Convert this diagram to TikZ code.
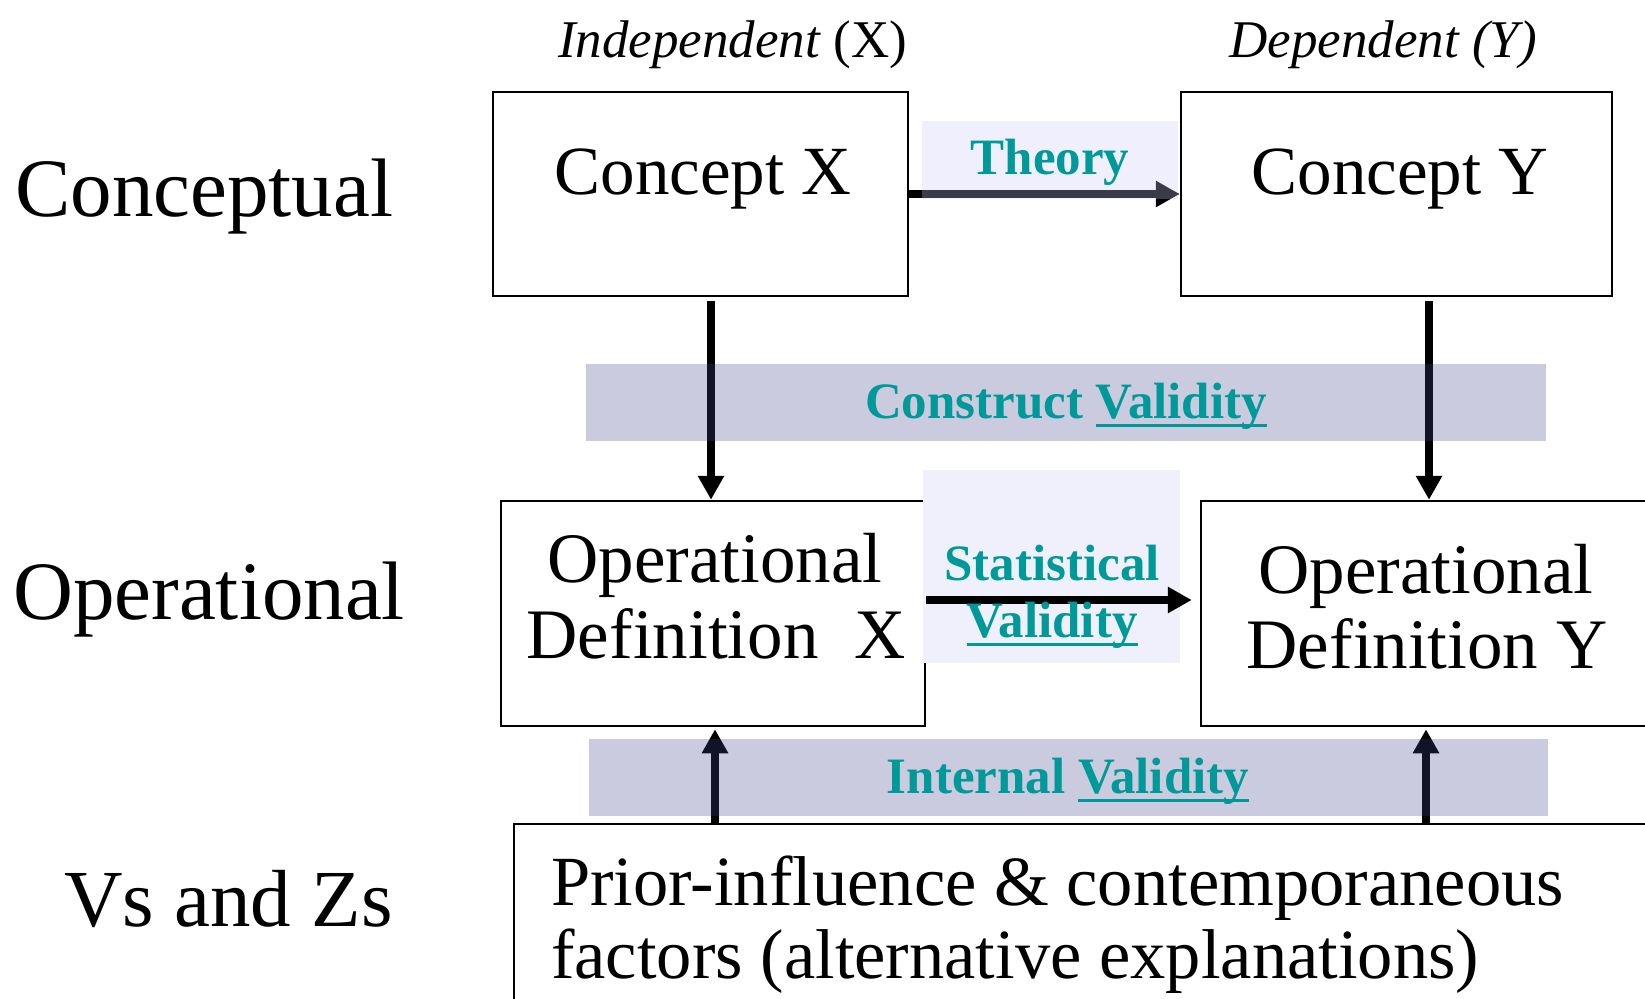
\documentclass[tikz,border=0pt]{standalone}
\usepackage{fontspec}
\setmainfont{Liberation Serif}
\usetikzlibrary{arrows.meta}
\definecolor{tealtxt}{RGB}{0,153,153}
\definecolor{lav}{RGB}{71,71,143}
\definecolor{lavlight}{RGB}{203,203,252}
\definecolor{statfill}{RGB}{240,240,252}
\newcommand\vul[1]{\setbox0\hbox{#1}\rlap{\rule[-8.5pt]{\wd0}{3pt}}\box0}
\begin{document}
\begin{tikzpicture}[x=1pt,y=-1pt,
  box/.style={draw=black,line width=2.5pt,inner sep=0pt,fill=none},
  conn/.style={line width=7.5pt,draw=black,-{Triangle[length=24pt,width=25pt]}},
  lbl/.style={inner sep=0pt,anchor=base west,font=\fontsize{83}{88}\selectfont},
  boxtxt/.style={inner sep=0pt,anchor=base,font=\fontsize{71}{76}\selectfont},
  boxtxtl/.style={inner sep=0pt,anchor=base west,font=\fontsize{70.5}{76}\selectfont},
  head/.style={inner sep=0pt,anchor=base west,font=\fontsize{53}{60}\selectfont},
  vtxt/.style={inner sep=0pt,anchor=base,text=tealtxt,font=\fontsize{51}{57}\selectfont\bfseries},
  hl/.style={fill=lav,fill opacity=0.28,draw=none},
  hlt/.style={fill=lavlight,fill opacity=0.29,draw=none},
]
\clip (0,0) rectangle (1645,998);
\fill[white] (0,0) rectangle (1645,998);

% boxes
\node[box,minimum width=415pt,minimum height=204pt] (cx) at (700.5,194) {};
\node[box,minimum width=431pt,minimum height=204pt] (cy) at (1396.5,194) {};
\node[box,minimum width=424pt,minimum height=225pt] (ox) at (713,613.5) {};
\node[box,minimum width=499pt,minimum height=225pt] (oy) at (1450.5,613.5) {};
\node[box,minimum width=1186pt,minimum height=276pt] (vz) at (1107,962) {};

% statistical highlight (behind arrow)
\fill[statfill] (923,470) rectangle (1180,663);

% connectors
\coordinate (lx) at (711,0);
\coordinate (rx) at (1429,0);
\coordinate (lxb) at (715,0);
\coordinate (rxb) at (1426,0);
\coordinate (sy) at (0,600);
\draw[conn] (cx.east) -- (cy.west);
\draw[conn,shorten <=4pt] (cx.south -| lx) -- (ox.north -| lx);
\draw[conn,shorten <=4pt] (cy.south -| rx) -- (oy.north -| rx);
\draw[conn,shorten >=8pt] (ox.east |- sy) -- (oy.west |- sy);
\draw[conn,shorten >=2pt] (vz.north -| lxb) -- (ox.south -| lxb);
\draw[conn,shorten >=2pt] (vz.north -| rxb) -- (oy.south -| rxb);

% highlights over arrows
\fill[hlt] (922,121) rectangle (1178,199);
\fill[hl] (586,364) rectangle (1546,441);
\fill[hl] (589,739) rectangle (1548,816);

% texts
\node[head] (hx) at (558,57) {\itshape Independent \upshape(X)};
\node[head] (hy) at (1229,57) {\itshape Dependent (Y)};
\node[lbl] (lc) at (15,216) {Conceptual};
\node[lbl] (lo) at (13,619) {Operational};
\node[lbl,font=\fontsize{81}{86}\selectfont] (lv) at (64,926) {Vs and Zs};

\node[boxtxt,font=\fontsize{69}{76}\selectfont] (tcx) at (703,194) {Concept X};
\node[boxtxt,font=\fontsize{69}{76}\selectfont] (tcy) at (1400,194) {Concept Y};
\node[boxtxt] (tox1) at (715,582) {Operational};
\node[boxtxt] (tox2) at (716,658) {Definition\ \ X};
\node[boxtxt] (toy1) at (1426,593) {Operational};
\node[boxtxt] (toy2) at (1427,668) {Definition Y};
\node[boxtxtl] (tv1) at (551,905) {Prior-influence \& contemporaneous};
\node[boxtxtl] (tv2) at (551,978) {factors (alternative explanations)};

\node[vtxt] (theory) at (1050,174) {Theory};
\node[vtxt] (cv) at (1066,418) {Construct \vul{Validity}};
\node[vtxt] (sv1) at (1052,580) {Statistical};
\node[vtxt] (sv2) at (1052,637) {\vul{Validity}};
\node[vtxt] (iv) at (1068,793) {Internal \vul{Validity}};
\end{tikzpicture}
\end{document}
